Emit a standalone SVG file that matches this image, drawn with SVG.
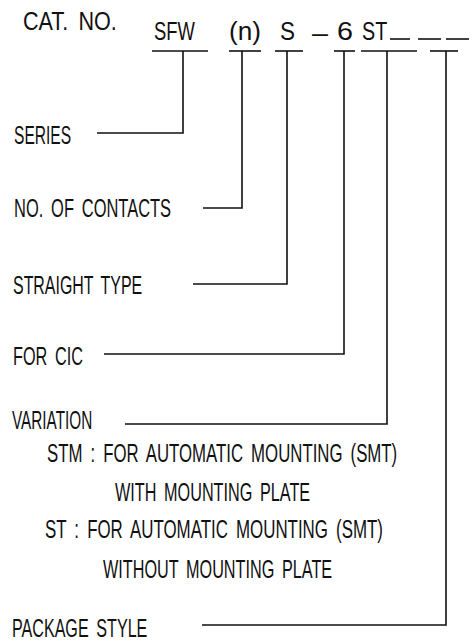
<svg xmlns="http://www.w3.org/2000/svg" width="472" height="642" viewBox="0 0 472 642">
<style>
text{font-family:"Liberation Sans",Arial,sans-serif;font-size:25px;fill:#111;word-spacing:5px;}
.ln{stroke:#111;stroke-width:1.6;fill:none;}
</style>
<rect width="472" height="642" fill="#fff"/>
<g id="catno"><text transform="translate(23,30) scale(0.68,1)" textLength="138" lengthAdjust="spacingAndGlyphs">CAT. NO.</text></g>
<g id="code">
<g id="c-sfw"><text transform="translate(154,40) scale(0.68,1)" textLength="60" lengthAdjust="spacingAndGlyphs">SFW</text><line class="ln" x1="152" y1="51" x2="208" y2="51"/></g>
<g id="c-n"><text transform="translate(229,40) scale(0.68,1)" textLength="47" lengthAdjust="spacingAndGlyphs">(n)</text><line class="ln" x1="229" y1="51" x2="261" y2="51"/></g>
<g id="c-s"><text transform="translate(280,40) scale(0.68,1)" textLength="22" lengthAdjust="spacingAndGlyphs">S</text><line class="ln" x1="275" y1="51" x2="303" y2="51"/></g>
<g id="c-6"><text transform="translate(312,42) scale(0.68,1)" textLength="23.5" lengthAdjust="spacingAndGlyphs">–</text><text transform="translate(337,40) scale(0.68,1)" textLength="23.5" lengthAdjust="spacingAndGlyphs">6</text><line class="ln" x1="334" y1="51" x2="355" y2="51"/></g>
<g id="c-st"><text transform="translate(362,40) scale(0.68,1)" textLength="37" lengthAdjust="spacingAndGlyphs">ST</text><line class="ln" x1="390" y1="39" x2="410" y2="39"/><line class="ln" x1="361" y1="51" x2="417" y2="51"/></g>
<g id="c-pkg"><line class="ln" x1="418" y1="39" x2="441" y2="39"/><line class="ln" x1="446" y1="39" x2="469" y2="39"/><line class="ln" x1="430" y1="51" x2="458" y2="51"/></g>
</g>
<g id="series"><text transform="translate(14,144) scale(0.68,1)" textLength="84" lengthAdjust="spacingAndGlyphs">SERIES</text></g>
<g id="contacts"><text transform="translate(14,217) scale(0.68,1)" textLength="231" lengthAdjust="spacingAndGlyphs">NO. OF CONTACTS</text></g>
<g id="straight"><text transform="translate(13,294) scale(0.68,1)" textLength="190" lengthAdjust="spacingAndGlyphs">STRAIGHT TYPE</text></g>
<g id="cic"><text transform="translate(13,365) scale(0.68,1)" textLength="103" lengthAdjust="spacingAndGlyphs">FOR CIC</text></g>
<g id="variation">
<text transform="translate(12,429) scale(0.68,1)" textLength="118" lengthAdjust="spacingAndGlyphs">VARIATION</text>
<text transform="translate(47,462) scale(0.68,1)" textLength="515" lengthAdjust="spacingAndGlyphs">STM : FOR AUTOMATIC MOUNTING (SMT)</text>
<text transform="translate(115,501) scale(0.68,1)" textLength="287" lengthAdjust="spacingAndGlyphs">WITH MOUNTING PLATE</text>
<text transform="translate(45,538) scale(0.68,1)" textLength="497" lengthAdjust="spacingAndGlyphs">ST : FOR AUTOMATIC MOUNTING (SMT)</text>
<text transform="translate(103,578) scale(0.68,1)" textLength="337" lengthAdjust="spacingAndGlyphs">WITHOUT MOUNTING PLATE</text>
</g>
<g id="package"><text transform="translate(12,637) scale(0.68,1)" textLength="199" lengthAdjust="spacingAndGlyphs">PACKAGE STYLE</text></g>
<g id="connectors">
<path class="ln" d="M183 51V133H97"/>
<path class="ln" d="M242 51V208H203"/>
<path class="ln" d="M287 51V284H193"/>
<path class="ln" d="M344 51V354H104"/>
<path class="ln" d="M387 51V424H125"/>
<path class="ln" d="M446 51V625H202"/>
</g>
</svg>
